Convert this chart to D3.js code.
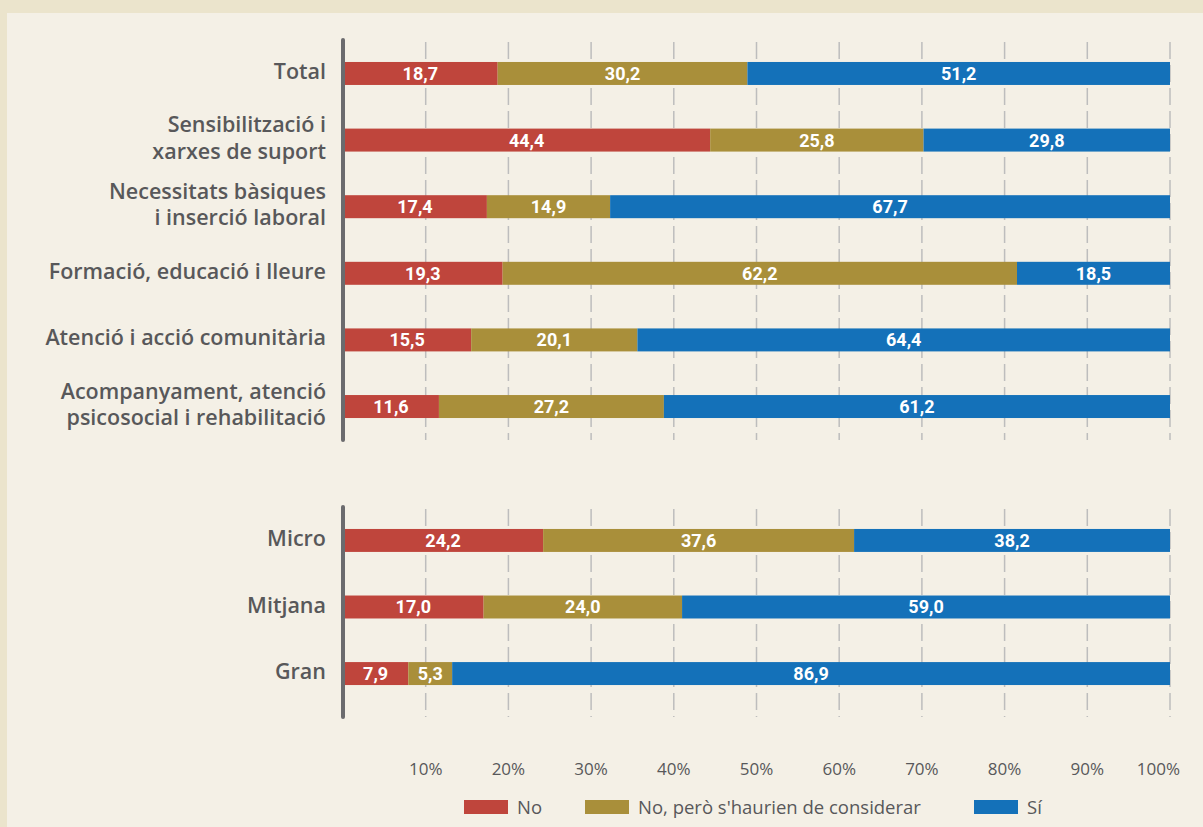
<!DOCTYPE html>
<html>
<head>
<meta charset="utf-8">
<script src="https://cdn.jsdelivr.net/npm/d3@7"></script>
<style>
  body { margin: 0; background: #ebe4cc; }
  svg { display: block; }
</style>
</head>
<body>
<svg width="1203" height="827"></svg>
<script>
var groupA = [
  'Total',
  'Sensibilització i\nxarxes de suport',
  'Necessitats bàsiques\ni inserció laboral',
  'Formació, educació i lleure',
  'Atenció i acció comunitària',
  'Acompanyament, atenció\npsicosocial i rehabilitació'
];
var groupB = ['Micro', 'Mitjana', 'Gran'];

var seriesNames = ['No', 'No, però s\'haurien de considerar', 'Sí'];
var seriesColors = ['#bf453c', '#a98f3a', '#1471b9'];

var noValues   = [18.7, 44.4, 17.4, 19.3, 15.5, 11.6, 24.2, 17.0, 7.9];
var butValues  = [30.2, 25.8, 14.9, 62.2, 20.1, 27.2, 37.6, 24.0, 5.3];
var yesValues  = [51.2, 29.8, 67.7, 18.5, 64.4, 61.2, 38.2, 59.0, 86.9];

var tickValues = [10, 20, 30, 40, 50, 60, 70, 80, 90, 100];

var svg = d3.select('svg');

svg.append('rect')
  .attr('x', 7).attr('y', 13)
  .attr('width', 1210).attr('height', 830)
  .attr('fill', '#f4f0e6');

var x = d3.scaleLinear().domain([0, 100]).range([343, 1170]);

var yA = d3.scaleBand().domain(groupA).range([40, 440]).paddingInner(0.655).paddingOuter(0.33);
var yB = d3.scaleBand().domain(groupB).range([507, 707]).paddingInner(0.655).paddingOuter(0.33);

var rows = groupA.map((c, i) => ({ name: c, y: yA, i: i }))
  .concat(groupB.map((c, i) => ({ name: c, y: yB, i: i + groupA.length })));

rows.forEach(r => {
  r.values = [noValues[r.i], butValues[r.i], yesValues[r.i]];
});

var stack = d3.stack().keys([0, 1, 2]);
var stacked = stack(rows.map(r => r.values));

var fmt = v => d3.format('.1f')(v).replace('.', ',');

// gridlines
var panels = [[40, 440], [507, 717]];
panels.forEach(p => {
  svg.append('g')
    .selectAll('line')
    .data(tickValues)
    .enter()
    .append('line')
      .attr('x1', d => x(d)).attr('x2', d => x(d))
      .attr('y1', p[0] + 2).attr('y2', p[1])
      .attr('stroke', '#bdbdbd')
      .attr('stroke-width', 1.5)
      .attr('stroke-dasharray', '17,6');
});

// bars
stacked.forEach((layer, k) => {
  var g = svg.append('g');
  g.selectAll('rect')
    .data(layer)
    .enter()
    .append('rect')
      .attr('x', d => x(d[0]))
      .attr('y', (d, i) => rows[i].y(rows[i].name))
      .attr('width', d => x(Math.min(d[1], 100)) - x(d[0]))
      .attr('height', (d, i) => rows[i].y.bandwidth())
      .attr('fill', seriesColors[k]);
  g.selectAll('text')
    .data(layer)
    .enter()
    .append('text')
      .attr('x', d => (x(d[0]) + x(Math.min(d[1], 100))) / 2)
      .attr('y', (d, i) => rows[i].y(rows[i].name) + rows[i].y.bandwidth() / 2)
      .attr('dy', '0.36em')
      .attr('text-anchor', 'middle')
      .attr('fill', '#fff')
      .style('font-family', 'Roboto, sans-serif')
      .style('font-weight', 700)
      .style('font-size', '18px')
      .text((d, i) => fmt(rows[i].values[k]));
});

// axis lines
panels.forEach(p => {
  svg.append('line')
    .attr('x1', 343).attr('x2', 343)
    .attr('y1', p[0]).attr('y2', p[1])
    .attr('stroke', '#6b6b6e')
    .attr('stroke-width', 4)
    .attr('stroke-linecap', 'round');
});

// category labels
rows.forEach(r => {
  var lines = r.name.split('\n');
  var cy = r.y(r.name) + r.y.bandwidth() / 2 - 2;
  var t = svg.append('text')
    .attr('x', 326)
    .attr('y', cy)
    .attr('text-anchor', 'end')
    .attr('fill', '#58585a')
    .style('font-family', '"Open Sans", sans-serif')
    .style('font-weight', 600)
    .style('font-size', '21.5px');
  lines.forEach((l, j) => {
    t.append('tspan')
      .attr('x', 326)
      .attr('y', cy + (j - (lines.length - 1) / 2) * 26.5)
      .attr('dy', '0.35em')
      .text(l);
  });
});

// x axis tick labels
svg.append('g')
  .selectAll('text')
  .data(tickValues)
  .enter()
  .append('text')
    .attr('x', d => d === 100 ? 1180 : x(d))
    .attr('y', 775)
    .attr('text-anchor', d => d === 100 ? 'end' : 'middle')
    .attr('fill', '#58585a')
    .style('font-family', '"Open Sans", sans-serif')
    .style('font-size', '17px')
    .text(d => d + '%');

// legend
var legendX = [464, 585, 974];
var legend = svg.append('g')
  .selectAll('g')
  .data(seriesNames)
  .enter()
  .append('g')
    .attr('transform', (d, i) => 'translate(' + legendX[i] + ',800)');
legend.append('rect')
  .attr('width', 44).attr('height', 14)
  .attr('fill', (d, i) => seriesColors[i]);
legend.append('text')
  .attr('x', 53).attr('y', 7)
  .attr('dy', '0.36em')
  .attr('fill', '#58585a')
  .style('font-family', '"Open Sans", sans-serif')
  .style('font-size', '18.5px')
  .text(d => d);
</script>
</body>
</html>
